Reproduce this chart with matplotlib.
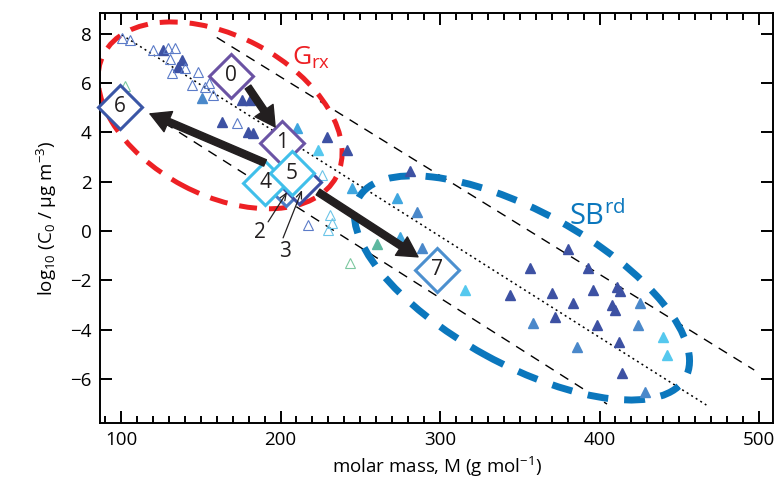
import numpy as np
import matplotlib.pyplot as plt
from matplotlib.patches import Ellipse, FancyArrowPatch
from matplotlib.transforms import ScaledTranslation

plt.rcParams['font.family'] = ['Open Sans', 'DejaVu Sans']
plt.rcParams['mathtext.fontset'] = 'custom'
plt.rcParams['mathtext.rm'] = 'Open Sans'
plt.rcParams['mathtext.it'] = 'Open Sans:italic'
plt.rcParams['mathtext.bf'] = 'Open Sans:bold'

# ==========================================
# data: molar mass M (g/mol) vs log10 C0 (ug/m3)
# ==========================================
# filled triangles, dark blue
dark_M = [126.3, 138.2, 135.7, 163.3, 175.9, 180.9, 179.6, 182.8, 229.2, 241.7,
          281.2, 380.3, 356.4, 392.8, 395.9, 411.0, 412.9, 343.9, 370.2, 383.4,
          407.8, 409.7, 398.4, 372.1, 412.2, 414.1]
dark_C = [7.34, 6.94, 6.65, 4.42, 5.31, 5.31, 4.02, 3.98, 3.81, 3.29,
          2.43, -0.73, -1.50, -1.50, -2.39, -2.27, -2.43, -2.60, -2.52, -2.92,
          -3.00, -3.20, -3.81, -3.49, -4.50, -5.76]
# filled triangles, medium blue
mid_M = [150.8, 285.6, 288.7, 425.4, 358.3, 424.1, 385.9, 428.5]
mid_C = [5.40, 0.77, -0.69, -2.92, -3.73, -3.81, -4.71, -6.53]
# filled triangles, light blue
light_M = [210.3, 244.8, 273.0, 274.9]
light_C = [4.18, 1.74, 1.34, -0.24]
# filled triangles, cyan
cyan_M = [223.5, 315.7, 439.8, 442.3]
cyan_C = [3.29, -2.39, -4.30, -5.03]
# filled triangles, green
green_M = [260.5]
green_C = [-0.53]
# open triangles
open_blue_M = [100.6, 105.6, 120.1, 129.5, 133.9, 130.7, 140.1, 148.3, 132.0,
               144.5, 152.7, 157.7, 155.2, 172.7, 217.2]
open_blue_C = [7.83, 7.75, 7.34, 7.42, 7.42, 6.98, 6.61, 6.45, 6.41,
               5.92, 5.84, 5.52, 6.00, 4.38, 0.24]
open_cyan_M = [226.0, 231.0, 232.3, 229.8]
open_cyan_C = [2.27, 0.65, 0.32, 0.04]
open_green_M = [243.6, 102.5]
open_green_C = [-1.30, 5.88]

# numbered states (diamonds)
state_labels = ['2', '3', '0', '1', '4', '5', '6', '7']
state_M = [203.5, 211.6, 169.0, 200.9, 190.3, 207.2, 99.4, 298.1]
state_C = [1.90, 1.99, 6.29, 3.57, 1.95, 2.35, 5.03, -1.58]
state_colors = ['#4a7cc4', '#3d4fa3', '#6a52a3', '#6b54a5',
                '#40bfea', '#40bfea', '#3b56a6', '#4c90cf']
state_hidden = [True, True, False, False, False, False, False, False]

# transitions between states (start M, start C, end M, end C)
trans_M0 = [179.6, 190.3, 223.5]
trans_C0 = [5.84, 2.76, 1.58]
trans_M1 = [196.6, 118.2, 286.2]
trans_C1 = [4.22, 4.75, -1.05]

# pointers for hidden states 2 and 3
ptr_labels = ['2', '3']
ptr_text_M = [187.1, 202.8]
ptr_text_C = [-0.08, -0.85]
ptr_M0 = [192.2, 201.6]
ptr_C0 = [0.37, -0.28]
ptr_M1 = [204.1, 213.5]
ptr_C1 = [1.58, 1.66]

# reference lines
dotted_M = [100.6, 467.0]
dotted_C = [7.95, -7.06]
upper_M = [160.0, 497.0]
upper_C = [7.85, -5.64]
lower_M = [118.0, 404.7]
lower_C = [4.76, -7.02]

# ==========================================
# figure
# ==========================================
fig = plt.figure(figsize=(7.77, 4.90), dpi=100)
ax = fig.add_axes([0.1287, 0.1367, 0.8662, 0.8367])
ax.set_xlim(86.8, 508.8)
ax.set_ylim(-7.79, 8.84)

ax.plot(dotted_M, dotted_C, color='k', lw=1.1, dashes=(1.3, 2.2), zorder=1)
ax.plot(upper_M, upper_C, color='k', lw=1.0, dashes=(7, 5.5), zorder=1)
ax.plot(lower_M, lower_C, color='k', lw=1.0, dashes=(7, 5.5), zorder=1)

# regions, sized in inches around a data-space centre
def region(cx, cy, w, h, ang, color, lw, dash):
    tr = fig.dpi_scale_trans + ScaledTranslation(cx, cy, ax.transData)
    e = Ellipse((0, 0), w, h, angle=ang, transform=tr, fill=False,
                edgecolor=color, lw=lw, linestyle=(0, dash), zorder=2)
    ax.add_patch(e)
    e.set_clip_path(ax.patch)

region(162.1, 4.69, 2.63, 1.59, -27.9, '#ed2024', 3.6, (3.6, 2.4))
region(351.4, -2.31, 3.73, 1.53, -28.8, '#0b77bd', 5.0, (3.0, 2.3))

ax.text(207.2, 6.73, r'G$_\mathregular{rx}$', color='#ed2024', fontsize=19)
ax.text(380.9, 0.24, r'SB$^\mathregular{rd}$', color='#0b77bd', fontsize=21)

# triangles
tri = dict(marker='^', ms=7.2, ls='none', zorder=3)
ax.plot(dark_M, dark_C, mfc='#3d51a3', mec='#3d51a3', **tri)
ax.plot(mid_M, mid_C, mfc='#4a88ca', mec='#4a88ca', **tri)
ax.plot(light_M, light_C, mfc='#3fa6df', mec='#3fa6df', **tri)
ax.plot(cyan_M, cyan_C, mfc='#55c8ee', mec='#55c8ee', **tri)
ax.plot(green_M, green_C, mfc='#5db8a0', mec='#5db8a0', **tri)
ax.plot(open_blue_M, open_blue_C, mfc='none', mec='#5b7bc8', mew=0.8, **tri)
ax.plot(open_cyan_M, open_cyan_C, mfc='none', mec='#6cc5e8', mew=0.8, **tri)
ax.plot(open_green_M, open_green_C, mfc='none', mec='#7cc8a0', mew=0.8, **tri)

# numbered diamonds
for lab, m, c, col, hid in zip(state_labels, state_M, state_C, state_colors, state_hidden):
    ax.plot(m, c, marker='D', ms=22.4, mfc='white', mec=col, mew=2.2,
            zorder=5, clip_on=False)
    if not hid:
        ax.text(m, c, lab, ha='center', va='center', fontsize=15,
                color='#231f20', zorder=6)

# transition arrows
for m0, c0, m1, c1 in zip(trans_M0, trans_C0, trans_M1, trans_C1):
    arr = FancyArrowPatch((m0, c0), (m1, c1),
                          arrowstyle='simple,head_length=0.95,head_width=1.05,tail_width=0.33',
                          mutation_scale=15, color='#231f20', shrinkA=0, shrinkB=0,
                          zorder=7)
    ax.add_patch(arr)

for lab, tm, tc, m0, c0, m1, c1 in zip(ptr_labels, ptr_text_M, ptr_text_C,
                                        ptr_M0, ptr_C0, ptr_M1, ptr_C1):
    ax.annotate('', xy=(m1, c1), xytext=(m0, c0),
                arrowprops=dict(arrowstyle='->,head_length=0.5,head_width=0.2',
                                lw=0.9, color='#231f20', shrinkA=0, shrinkB=0),
                zorder=7)
    ax.text(tm, tc, lab, ha='center', va='center', fontsize=15, color='#231f20')

# axes styling
ax.set_xticks([100, 200, 300, 400, 500])
ax.set_xticks(np.arange(90, 510, 10), minor=True)
ax.set_yticks([-6, -4, -2, 0, 2, 4, 6, 8])
ax.tick_params(which='both', direction='in', top=True, right=True, width=1.4,
               labelsize=13.5, pad=6)
ax.tick_params(which='major', length=8.6)
ax.tick_params(which='minor', length=5)
for s in ax.spines.values():
    s.set_linewidth(1.4)

ax.set_xlabel(r'molar mass, M (g mol$^\mathregular{-1}$)', fontsize=13.5, labelpad=4)
ax.set_ylabel(r'log$_\mathregular{10}$ (C$_\mathregular{0}$ / µg m$^\mathregular{-3}$)',
              fontsize=13.5, labelpad=8)

fig.savefig('out.png', dpi=100)
